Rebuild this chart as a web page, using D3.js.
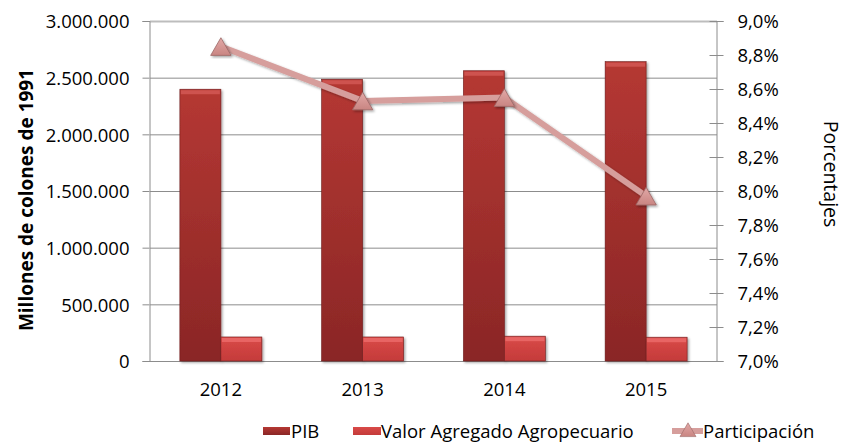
<!DOCTYPE html>
<html><head><meta charset="utf-8">
<script src="https://cdn.jsdelivr.net/npm/d3@7"></script>
<style>body{margin:0;background:#fff}svg{display:block}text{font-family:"Open Sans",sans-serif;fill:#000}</style>
</head><body><svg id="c" width="844" height="444"></svg>
<script>
const years = ["2012","2013","2014","2015"];
const pib = [2398000, 2486000, 2561000, 2641000];
const valorAgro = [212000, 212000, 219000, 210000];
const participacion = [8.85, 8.53, 8.55, 7.97];
const leftTicks = [0,500000,1000000,1500000,2000000,2500000,3000000];
const rightTicks = [7.0,7.2,7.4,7.6,7.8,8.0,8.2,8.4,8.6,8.8,9.0];

const svg = d3.select("#c");
const L=150, R=717, T=21, B=361;
const x = d3.scaleBand().domain(years).range([L,R]).paddingInner(0).paddingOuter(0);
const inner = d3.scaleBand().domain(["pib","va"]).range([0,82]);
const y = d3.scaleLinear().domain([0,3000000]).range([B,T]);
const y2 = d3.scaleLinear().domain([7,9]).range([B,T]);
const fmt = d => d3.format(",")(d).replace(/,/g,".");
const FS = "18.5px";

const defs = svg.append("defs");
function grad(id, stops, horiz){
  const g = defs.append("linearGradient").attr("id",id).attr("x1",0).attr("y1",0).attr("x2",horiz?1:0).attr("y2",horiz?0:1);
  stops.forEach(s=>g.append("stop").attr("offset",s[0]).attr("stop-color",s[1]));
}
grad("gPib",[[0,"#b53833"],[1,"#8a2626"]]);
grad("gVa",[[0,"#d94a48"],[1,"#c43b3a"]]);
grad("gTri",[[0,"#e2a9a7"],[1,"#c98582"]]);
const fsh = defs.append("filter").attr("id","sh").attr("x","-20%").attr("y","-20%").attr("width","140%").attr("height","140%");
fsh.append("feDropShadow").attr("dx",1.5).attr("dy",1.5).attr("stdDeviation",1.2).attr("flood-color","#000").attr("flood-opacity",0.35);

// gridlines
svg.append("g").selectAll("line").data(leftTicks.slice(1)).join("line")
  .attr("x1",L).attr("x2",R).attr("y1",d=>y(d)+0.5).attr("y2",d=>y(d)+0.5)
  .attr("stroke",d=>d===3000000?"#bdbdbd":"#8c8c8c").attr("stroke-width",d=>d===3000000?2:1);

// left axis
const ga = svg.append("g").attr("transform",`translate(${L-0.5},0)`)
  .call(d3.axisLeft(y).tickValues(leftTicks).tickFormat(fmt).tickSize(7).tickPadding(13));
ga.select(".domain").attr("stroke","#8c8c8c");
ga.selectAll(".tick line").attr("stroke","#8c8c8c");
ga.selectAll("text").style("font-size",FS).attr("fill","#000").attr("dy","0.36em");

// right axis
const gr = svg.append("g").attr("transform",`translate(${R-0.5},0)`)
  .call(d3.axisRight(y2).tickValues(rightTicks).tickFormat(d=>d3.format(".1f")(d).replace(".",",")+"%").tickSize(7).tickPadding(14));
gr.select(".domain").attr("stroke","#8c8c8c");
gr.selectAll(".tick line").attr("stroke","#8c8c8c").attr("x1",-7);
gr.selectAll("text").style("font-size",FS).attr("fill","#000").attr("dy","0.36em");

// bottom axis line
svg.append("line").attr("x1",L).attr("x2",R).attr("y1",B+0.5).attr("y2",B+0.5).attr("stroke","#8c8c8c");
svg.append("g").selectAll("text").data(years).join("text")
  .attr("x",d=>x(d)+x.bandwidth()/2).attr("y",396).attr("text-anchor","middle")
  .style("font-size",FS).text(d=>d);

// bars
const gx = d => x(d)+ (x.bandwidth()-82)/2;
const bars = svg.append("g");
function bevelBar(g, bx, by, bw, bh, fill, hi){
  g.append("rect").attr("x",bx).attr("y",by).attr("width",bw).attr("height",bh).attr("fill",fill)
    .attr("stroke","#6e1c1c").attr("stroke-width",0.6).attr("filter","url(#sh)");
  g.append("rect").attr("x",bx+1).attr("y",by+1).attr("width",bw-2).attr("height",4).attr("fill",hi).attr("opacity",0.7);
}
years.forEach((yr,i)=>{
  bevelBar(bars, gx(yr)+inner("pib"), y(pib[i]), inner.bandwidth(), B-y(pib[i]), "url(#gPib)", "#d9605b");
  bevelBar(bars, gx(yr)+inner("va"), y(valorAgro[i]), inner.bandwidth(), B-y(valorAgro[i]), "url(#gVa)", "#f07270");
});

// line
const lineG = svg.append("g");
const line = d3.line().x((d,i)=>x(years[i])+x.bandwidth()/2).y(d=>y2(d));
lineG.append("path").datum(participacion).attr("d",line).attr("fill","none")
  .attr("stroke","#d69e9c").attr("stroke-width",6).attr("filter","url(#sh)");
const tri = d3.symbol().type(d3.symbolTriangle).size(180);
lineG.selectAll("path.m").data(participacion).join("path").attr("class","m")
  .attr("transform",(d,i)=>`translate(${x(years[i])+x.bandwidth()/2},${y2(d)+3})`)
  .attr("d",tri).attr("fill","url(#gTri)").attr("stroke","#9a6664").attr("stroke-width",0.8).attr("filter","url(#sh)");

// titles
svg.append("text").attr("transform","translate(33,200) rotate(-90)").attr("text-anchor","middle")
  .style("font-size","19px").style("font-weight","bold").text("Millones de colones de 1991");
svg.append("text").attr("transform","translate(824,174) rotate(90)").attr("text-anchor","middle")
  .style("font-size","19.5px").text("Porcentajes");

// legend
const lg = svg.append("g");
const ly = 431;
const LFS = "18.5px";
lg.append("rect").attr("x",263).attr("y",ly-4).attr("width",27).attr("height",8).attr("fill","url(#gPib)");
lg.append("text").attr("x",291).attr("y",ly).attr("dy","0.36em").style("font-size",LFS).text("PIB");
lg.append("rect").attr("x",353).attr("y",ly-4).attr("width",28).attr("height",8).attr("fill","url(#gVa)");
lg.append("text").attr("x",381).attr("y",ly).attr("dy","0.36em").style("font-size",LFS).text("Valor Agregado Agropecuario");
lg.append("line").attr("x1",672).attr("x2",703).attr("y1",ly).attr("y2",ly).attr("stroke","#d69e9c").attr("stroke-width",6);
lg.append("path").attr("transform",`translate(688,${ly+1})`).attr("d",d3.symbol().type(d3.symbolTriangle).size(110)).attr("fill","url(#gTri)").attr("stroke","#9a6664").attr("stroke-width",0.6);
lg.append("text").attr("x",703).attr("y",ly).attr("dy","0.36em").style("font-size",LFS).text("Participación");
</script></body></html>
